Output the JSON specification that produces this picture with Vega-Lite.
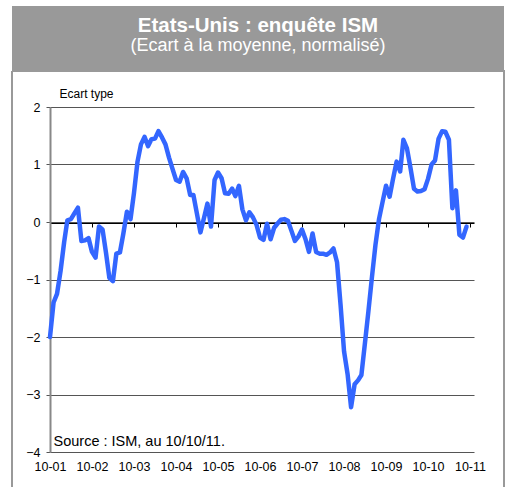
{
  "$schema": "https://vega.github.io/schema/vega-lite/v6.json",
  "background": "white",
  "padding": {"left": 11, "top": 6, "right": 2, "bottom": 0},
  "spacing": 0,
  "datasets": {
    "ism": [
      {"date": "2001-10-01", "ecart": -2.0},
      {"date": "2001-11-01", "ecart": -1.40},
      {"date": "2001-12-01", "ecart": -1.25},
      {"date": "2002-01-01", "ecart": -0.85},
      {"date": "2002-02-01", "ecart": -0.35},
      {"date": "2002-03-01", "ecart": 0.03},
      {"date": "2002-04-01", "ecart": 0.05},
      {"date": "2002-05-01", "ecart": 0.15},
      {"date": "2002-06-01", "ecart": 0.25},
      {"date": "2002-07-01", "ecart": -0.33},
      {"date": "2002-08-01", "ecart": -0.32},
      {"date": "2002-09-01", "ecart": -0.28},
      {"date": "2002-10-01", "ecart": -0.52},
      {"date": "2002-11-01", "ecart": -0.62},
      {"date": "2002-12-01", "ecart": -0.08},
      {"date": "2003-01-01", "ecart": -0.13},
      {"date": "2003-02-01", "ecart": -0.55},
      {"date": "2003-03-01", "ecart": -0.97},
      {"date": "2003-04-01", "ecart": -1.03},
      {"date": "2003-05-01", "ecart": -0.55},
      {"date": "2003-06-01", "ecart": -0.53},
      {"date": "2003-07-01", "ecart": -0.20},
      {"date": "2003-08-01", "ecart": 0.18},
      {"date": "2003-09-01", "ecart": 0.05},
      {"date": "2003-10-01", "ecart": 0.50},
      {"date": "2003-11-01", "ecart": 1.05},
      {"date": "2003-12-01", "ecart": 1.35},
      {"date": "2004-01-01", "ecart": 1.48},
      {"date": "2004-02-01", "ecart": 1.32},
      {"date": "2004-03-01", "ecart": 1.44},
      {"date": "2004-04-01", "ecart": 1.45},
      {"date": "2004-05-01", "ecart": 1.58},
      {"date": "2004-06-01", "ecart": 1.47},
      {"date": "2004-07-01", "ecart": 1.35},
      {"date": "2004-08-01", "ecart": 1.12},
      {"date": "2004-09-01", "ecart": 0.92},
      {"date": "2004-10-01", "ecart": 0.73},
      {"date": "2004-11-01", "ecart": 0.70},
      {"date": "2004-12-01", "ecart": 0.87},
      {"date": "2005-01-01", "ecart": 0.76},
      {"date": "2005-02-01", "ecart": 0.47},
      {"date": "2005-03-01", "ecart": 0.47},
      {"date": "2005-04-01", "ecart": 0.14},
      {"date": "2005-05-01", "ecart": -0.18},
      {"date": "2005-06-01", "ecart": 0.07},
      {"date": "2005-07-01", "ecart": 0.32},
      {"date": "2005-08-01", "ecart": -0.08},
      {"date": "2005-09-01", "ecart": 0.73},
      {"date": "2005-10-01", "ecart": 0.86},
      {"date": "2005-11-01", "ecart": 0.76},
      {"date": "2005-12-01", "ecart": 0.50},
      {"date": "2006-01-01", "ecart": 0.49},
      {"date": "2006-02-01", "ecart": 0.58},
      {"date": "2006-03-01", "ecart": 0.45},
      {"date": "2006-04-01", "ecart": 0.63},
      {"date": "2006-05-01", "ecart": 0.22},
      {"date": "2006-06-01", "ecart": 0.03},
      {"date": "2006-07-01", "ecart": 0.17},
      {"date": "2006-08-01", "ecart": 0.08},
      {"date": "2006-09-01", "ecart": -0.05},
      {"date": "2006-10-01", "ecart": -0.27},
      {"date": "2006-11-01", "ecart": -0.31},
      {"date": "2006-12-01", "ecart": -0.03},
      {"date": "2007-01-01", "ecart": -0.30},
      {"date": "2007-02-01", "ecart": -0.10},
      {"date": "2007-03-01", "ecart": -0.03},
      {"date": "2007-04-01", "ecart": 0.04},
      {"date": "2007-05-01", "ecart": 0.05},
      {"date": "2007-06-01", "ecart": 0.02},
      {"date": "2007-07-01", "ecart": -0.15},
      {"date": "2007-08-01", "ecart": -0.33},
      {"date": "2007-09-01", "ecart": -0.25},
      {"date": "2007-10-01", "ecart": -0.13},
      {"date": "2007-11-01", "ecart": -0.30},
      {"date": "2007-12-01", "ecart": -0.52},
      {"date": "2008-01-01", "ecart": -0.20},
      {"date": "2008-02-01", "ecart": -0.52},
      {"date": "2008-03-01", "ecart": -0.55},
      {"date": "2008-04-01", "ecart": -0.55},
      {"date": "2008-05-01", "ecart": -0.57},
      {"date": "2008-06-01", "ecart": -0.53},
      {"date": "2008-07-01", "ecart": -0.46},
      {"date": "2008-08-01", "ecart": -0.70},
      {"date": "2008-09-01", "ecart": -1.45},
      {"date": "2008-10-01", "ecart": -2.25},
      {"date": "2008-11-01", "ecart": -2.65},
      {"date": "2008-12-01", "ecart": -3.22},
      {"date": "2009-01-01", "ecart": -2.82},
      {"date": "2009-02-01", "ecart": -2.75},
      {"date": "2009-03-01", "ecart": -2.66},
      {"date": "2009-04-01", "ecart": -2.10},
      {"date": "2009-05-01", "ecart": -1.55},
      {"date": "2009-06-01", "ecart": -0.95},
      {"date": "2009-07-01", "ecart": -0.40},
      {"date": "2009-08-01", "ecart": 0.05},
      {"date": "2009-09-01", "ecart": 0.35},
      {"date": "2009-10-01", "ecart": 0.63},
      {"date": "2009-11-01", "ecart": 0.44},
      {"date": "2009-12-01", "ecart": 0.75},
      {"date": "2010-01-01", "ecart": 1.05},
      {"date": "2010-02-01", "ecart": 0.88},
      {"date": "2010-03-01", "ecart": 1.43},
      {"date": "2010-04-01", "ecart": 1.28},
      {"date": "2010-05-01", "ecart": 0.95},
      {"date": "2010-06-01", "ecart": 0.58},
      {"date": "2010-07-01", "ecart": 0.53},
      {"date": "2010-08-01", "ecart": 0.54},
      {"date": "2010-09-01", "ecart": 0.57},
      {"date": "2010-10-01", "ecart": 0.75},
      {"date": "2010-11-01", "ecart": 1.00},
      {"date": "2010-12-01", "ecart": 1.07},
      {"date": "2011-01-01", "ecart": 1.45},
      {"date": "2011-02-01", "ecart": 1.58},
      {"date": "2011-03-01", "ecart": 1.57},
      {"date": "2011-04-01", "ecart": 1.43},
      {"date": "2011-05-01", "ecart": 0.24},
      {"date": "2011-06-01", "ecart": 0.55},
      {"date": "2011-07-01", "ecart": -0.22},
      {"date": "2011-08-01", "ecart": -0.27},
      {"date": "2011-09-01", "ecart": -0.08}
    ]
  },
  "vconcat": [
    {
      "width": 492,
      "height": 64,
      "view": {"fill": "#999999", "stroke": null},
      "data": {"values": [{}]},
      "layer": [
        {"mark": {"type": "text", "text": "Etats-Unis : enquête ISM", "font": "Liberation Sans", "fontSize": 20.5, "fontWeight": "bold", "color": "white", "baseline": "alphabetic", "align": "center", "dy": -6}},
        {"mark": {"type": "text", "text": "(Ecart à la moyenne, normalisé)", "font": "Liberation Sans", "fontSize": 18, "fontWeight": "normal", "color": "white", "baseline": "alphabetic", "align": "center", "dy": 13}}
      ]
    },
    {
      "width": 492,
      "height": 416,
      "view": {"fill": "white", "stroke": "#999999", "strokeWidth": 2, "strokeDash": [908, 492, 416, 0]},
      "data": {"name": "ism"},
      "mark": {"type": "line", "color": "#3366ff", "strokeWidth": 4.5, "strokeJoin": "round", "strokeCap": "round"},
      "encoding": {
        "x": {
          "field": "date", "type": "temporal",
          "scale": {"type": "utc", "domain": [{"year": 2001, "month": 10, "date": 1, "utc": true}, {"year": 2011, "month": 11, "date": 5, "utc": true}], "range": [38, 462]},
          "axis": {
            "orient": "bottom", "offset": -264,
            "values": [
              {"year": 2001, "month": 10, "date": 1, "utc": true},
              {"year": 2002, "month": 10, "date": 1, "utc": true},
              {"year": 2003, "month": 10, "date": 1, "utc": true},
              {"year": 2004, "month": 10, "date": 1, "utc": true},
              {"year": 2005, "month": 10, "date": 1, "utc": true},
              {"year": 2006, "month": 10, "date": 1, "utc": true},
              {"year": 2007, "month": 10, "date": 1, "utc": true},
              {"year": 2008, "month": 10, "date": 1, "utc": true},
              {"year": 2009, "month": 10, "date": 1, "utc": true},
              {"year": 2010, "month": 10, "date": 1, "utc": true},
              {"year": 2011, "month": 10, "date": 1, "utc": true}
            ],
            "format": "%m-%y", "grid": false,
            "domain": true, "domainColor": "#000000", "domainWidth": 1,
            "ticks": true, "tickSize": 4, "tickColor": "#000000", "tickWidth": 1,
            "labelPadding": 233, "labelFont": "Liberation Sans", "labelFontSize": 12.5, "labelColor": "#000000",
            "labelFlush": false, "labelOverlap": false,
            "title": "Source : ISM, au 10/10/11.", "titleX": 41, "titleY": 222, "titleAlign": "left", "titleAnchor": "start", "titleBaseline": "alphabetic",
            "titleFont": "Liberation Sans", "titleFontSize": 14.5, "titleFontWeight": "normal", "titleColor": "#000000"
          }
        },
        "y": {
          "field": "ecart", "type": "quantitative",
          "scale": {"domain": [-4, 2], "range": [381, 36], "nice": false, "zero": false},
          "axis": {
            "orient": "left", "offset": -38,
            "values": [-4, -3, -2, -1, 0, 1, 2],
            "grid": true, "gridColor": "#555555", "gridWidth": 1,
            "domain": true, "domainColor": "#888888", "domainWidth": 2,
            "ticks": true, "tickSize": 4, "tickColor": "#555555",
            "labelPadding": 6, "labelFont": "Liberation Sans", "labelFontSize": 12.5, "labelColor": "#000000",
            "title": "Ecart type", "titleAngle": 0, "titleAlign": "left", "titleBaseline": "alphabetic",
            "titleX": 9, "titleY": 26, "titleFont": "Liberation Sans", "titleFontSize": 12, "titleFontWeight": "normal", "titleColor": "#000000"
          }
        }
      }
    }
  ]
}
